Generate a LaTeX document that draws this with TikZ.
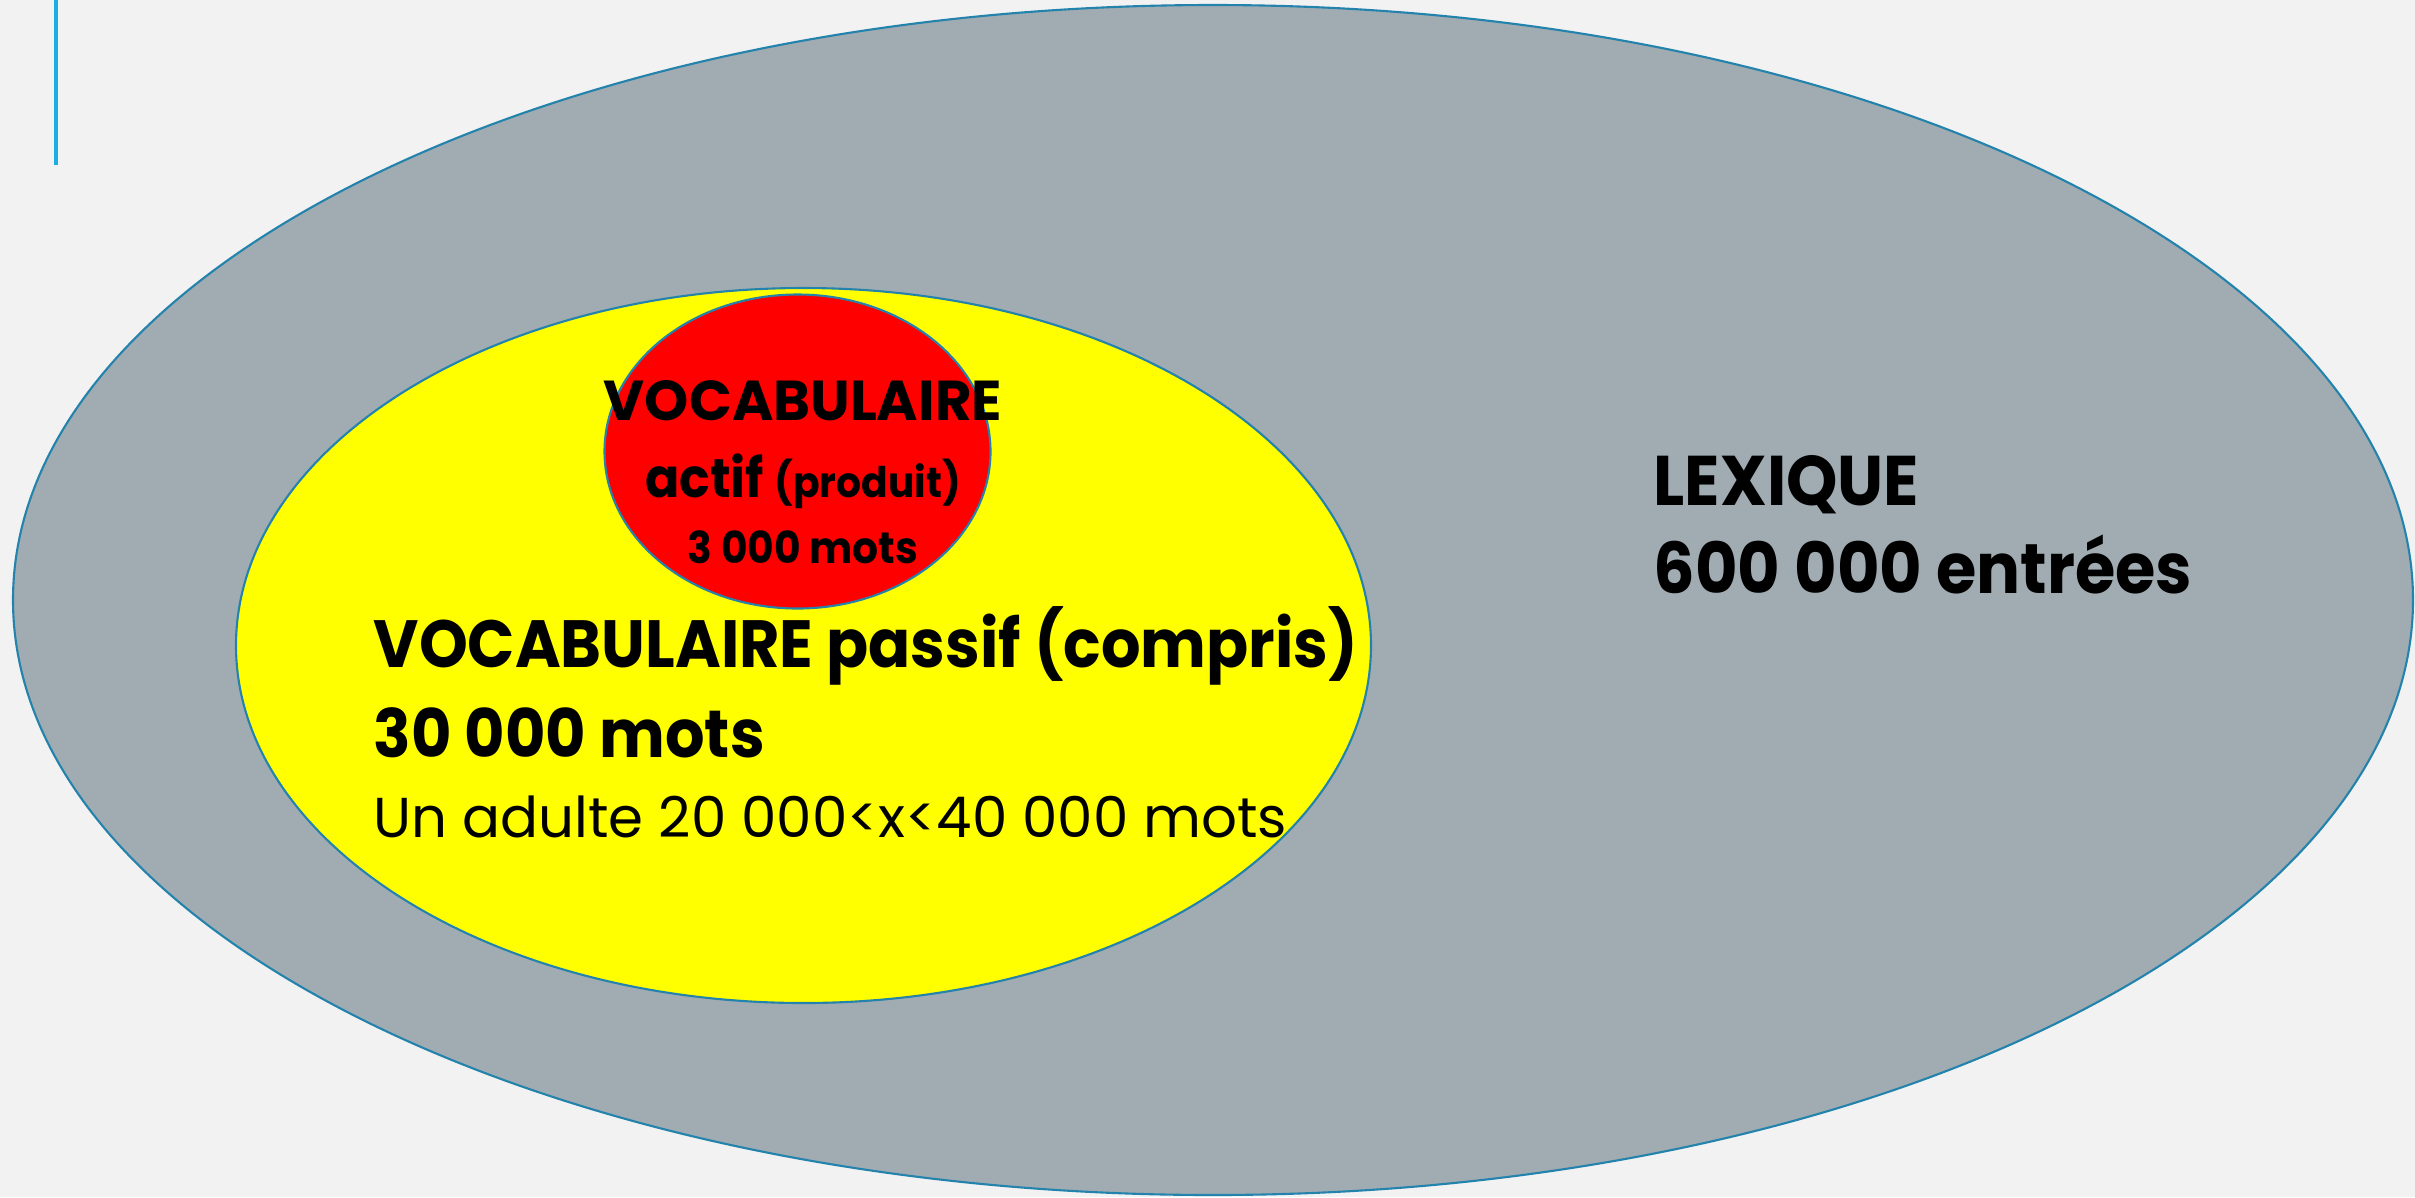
\documentclass[tikz,border=0pt]{standalone}
\usepackage{fontspec}
\setmainfont{Poppins}[BoldFeatures={FakeStretch=0.93}]
\newfontfamily\widefont{Poppins}
\usetikzlibrary{calc}
\definecolor{slidebg}{HTML}{F2F2F2}
\definecolor{lexgray}{HTML}{A1ACB2}
\definecolor{rimblue}{HTML}{2383AC}
\definecolor{barblue}{HTML}{1CADE4}
\definecolor{passyellow}{HTML}{FFFF00}
\definecolor{actred}{HTML}{FF0000}
\tikzset{
  rim/.style={draw=rimblue, line width=0.6pt},
  bigtxt/.style={font=\fontsize{19}{22}\selectfont\bfseries, inner sep=0pt},
  redtxt/.style={font=\widefont\fontsize{16}{19}\selectfont\bfseries, inner sep=0pt, anchor=base},
}

\begin{document}
\begin{tikzpicture}
			%%%%% START %%%%%
			
			\fill[slidebg] (0, 0) rectangle (24.15, -11.97);
			\useasboundingbox (0, 0) rectangle (24.15, -11.97);
			
			\draw[barblue, line width=1.1pt] (0.56, 0) -- (0.56, -1.65);
			
			\draw[rim, fill=lexgray] (12.13, -6.00) ellipse [x radius=12.0, y radius=5.95];
			\draw[rim, fill=passyellow] (8.035, -6.455) ellipse [x radius=5.675, y radius=3.575];
			\draw[rim, fill=actred] (7.975, -4.515) ellipse [x radius=1.93, y radius=1.57];
			
			\node[redtxt] (actiftitle) at (8.03, -4.20) {VOCABULAIRE};
			\node[redtxt, font=\fontsize{15.5}{18}\selectfont\bfseries] (actifname) at (8.03, -4.97) {actif {\fontsize{12}{14}\selectfont(produit)}};
			\node[redtxt, font=\fontsize{12.5}{15}\selectfont\bfseries] (actifcount) at (8.03, -5.63) {3 000 mots};
			
			\node[bigtxt, anchor=base west] (passiftitle) at (3.73, -6.67) {VOCABULAIRE passif (compris)};
			\node[bigtxt, anchor=base west] (passifcount) at (3.73, -7.57) {30 000 mots};
			\node[bigtxt, font=\fontsize{16}{19}\selectfont, anchor=base west] (passifadult) at (3.73, -8.37) {Un adulte 20 000<x<40 000 mots};
			
			\node[bigtxt, font=\fontsize{20}{24}\selectfont\bfseries, anchor=base west] (lexiquetitle) at (16.53, -5.05) {LEXIQUE};
			\node[bigtxt, font=\fontsize{20}{24}\selectfont\bfseries, anchor=base west] (lexiquecount) at (16.53, -5.93) {600 000 entrées};
			
			%%%%% END %%%%%
\end{tikzpicture}
\end{document}
